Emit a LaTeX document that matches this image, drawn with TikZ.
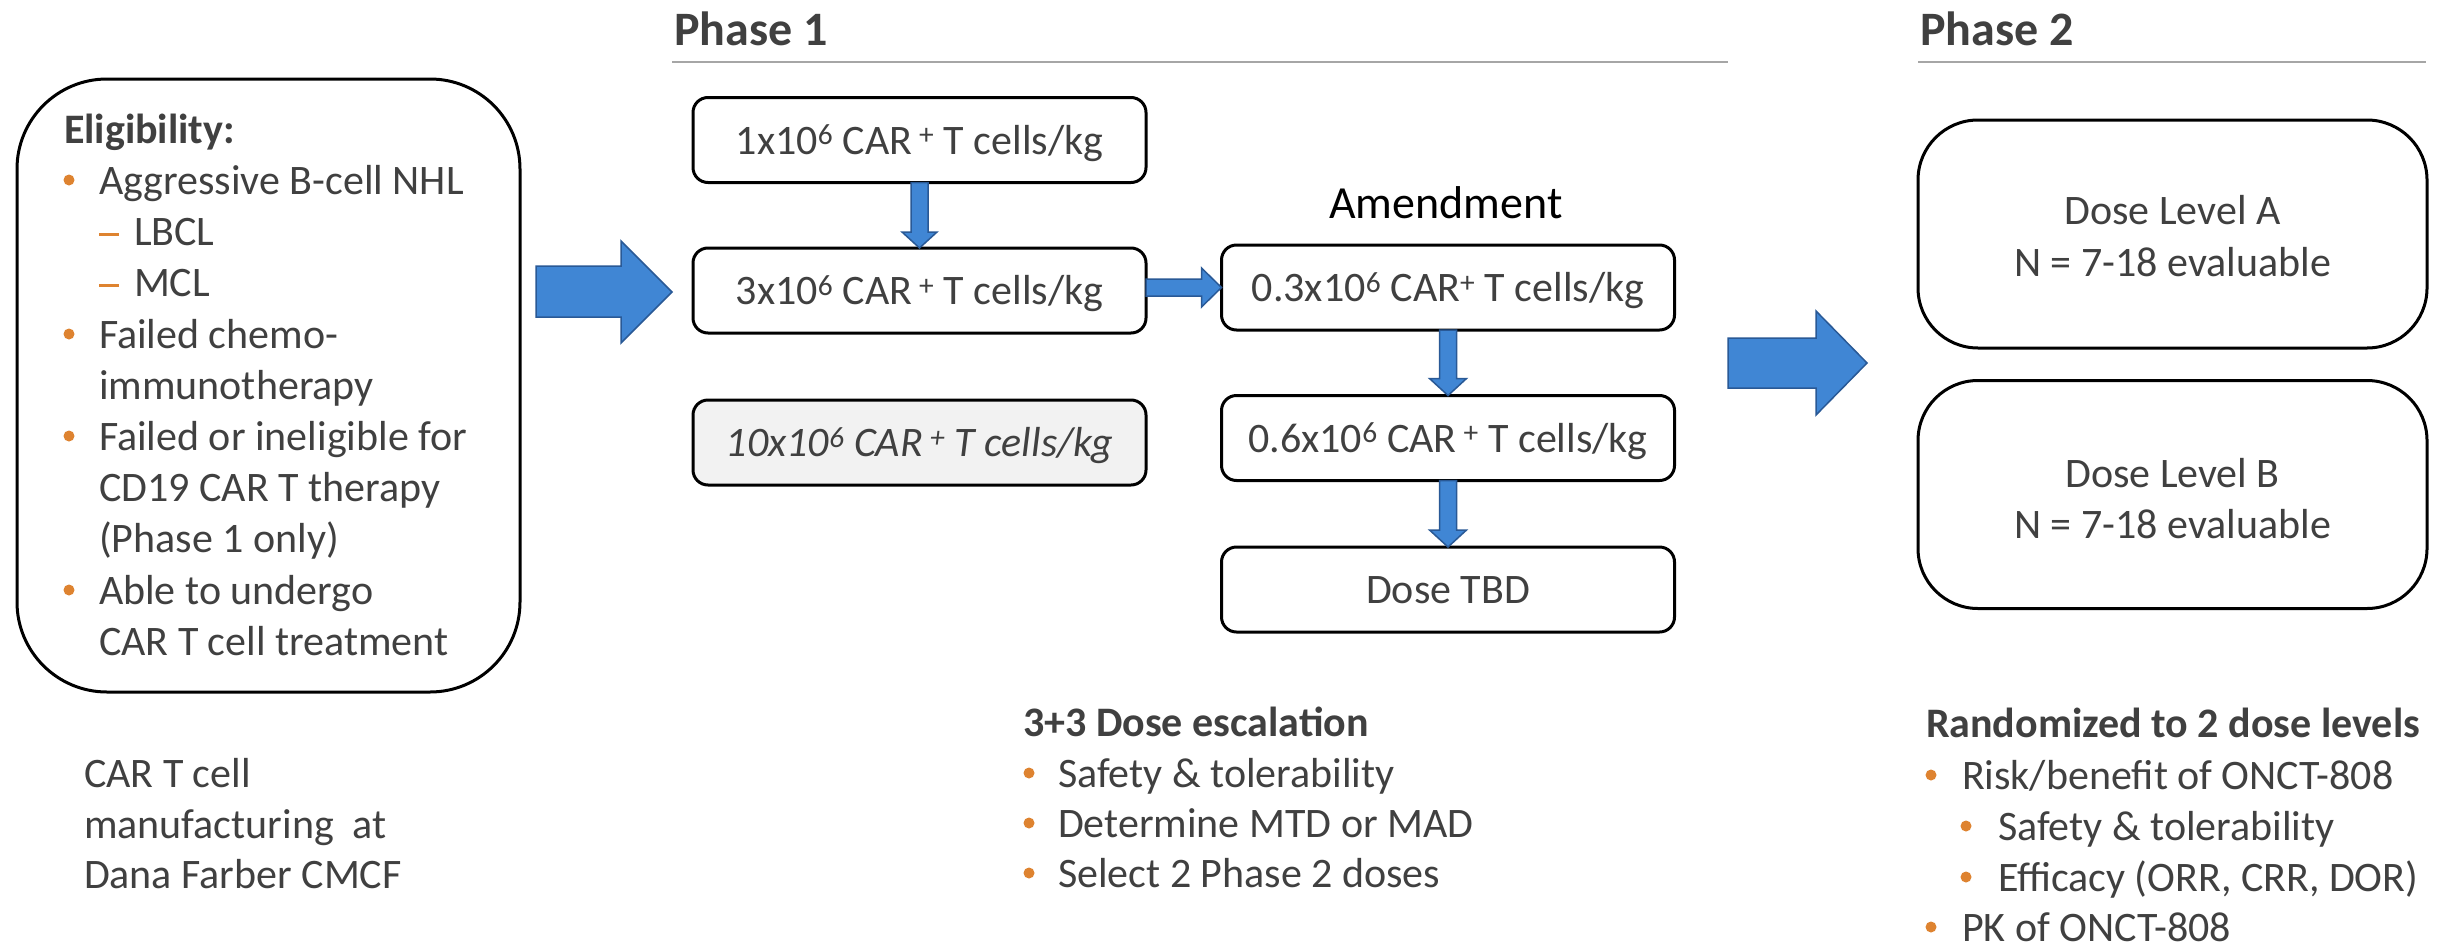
\documentclass[tikz,border=0pt]{standalone}
\usepackage{fontspec}
\setmainfont{Carlito}
\usetikzlibrary{calc}
\definecolor{txtgray}{HTML}{404040}
\definecolor{bulletor}{RGB}{222,131,48}
\definecolor{arrowfill}{RGB}{64,134,212}
\definecolor{arrowline}{RGB}{41,89,150}
\definecolor{rulegray}{HTML}{A6A6A6}
\definecolor{boxgray}{HTML}{F2F2F2}
\newcommand{\bodyfont}{\fontsize{42}{51}\selectfont}
\newcommand{\headfont}{\fontsize{48}{58}\selectfont\bfseries}
\newcommand{\obullet}[2]{\fill[bulletor] (#1,#2) circle[radius=5.5pt];}
\newcommand{\odash}[2]{\draw[bulletor, line width=3pt] (#1,#2) -- ++(20,0);}
\newcommand{\blkdown}[5]{%
  \filldraw[blockarrow] let \p1=(#1.south), \p2=(#2.north) in
    (\x1-#3pt,\y1) -- (\x1+#3pt,\y1) -- (\x1+#3pt,\y2+#5pt) -- (\x1+#4pt,\y2+#5pt)
    -- (\x1,\y2) -- (\x1-#4pt,\y2+#5pt) -- (\x1-#3pt,\y2+#5pt) -- cycle;}
\newcommand{\blkright}[5]{%
  \filldraw[blockarrow] let \p1=(#1.east), \p2=(#2.west) in
    (\x1,\y2+#3pt) -- (\x2-#5pt,\y2+#3pt) -- (\x2-#5pt,\y2+#4pt) -- (\x2,\y2)
    -- (\x2-#5pt,\y2-#4pt) -- (\x2-#5pt,\y2-#3pt) -- (\x1,\y2-#3pt) -- cycle;}
\begin{document}
\begin{tikzpicture}[x=1pt,y=-1pt,
  every node/.style={inner sep=0pt, outer sep=0pt},
  txt/.style={anchor=base west, text=txtgray, font=\bodyfont},
  ctxt/.style={anchor=base, text=txtgray, font=\bodyfont},
  dosebox/.style={draw=black, line width=3pt, rounded corners=15pt, fill=white,
    minimum width=453pt, minimum height=85pt, text=txtgray, font=\bodyfont,
    text height=28pt, text depth=0pt},
  p2box/.style={draw=black, line width=3pt, rounded corners=60pt,
    minimum width=509pt, minimum height=228pt},
  blockarrow/.style={fill=arrowfill, draw=arrowline, line width=1.5pt, line join=miter},
  hdrrule/.style={draw=rulegray, line width=2pt}
]
\useasboundingbox[fill=white] (0,0) rectangle (2446,945);

% ---------- Eligibility box ----------
\node[draw=black, line width=3pt, rounded corners=90pt, minimum width=503pt,
  minimum height=613pt] (elig) at (268.5,385.5) {};
\node[txt, font=\bodyfont\bfseries] (eligt) at (64,143) {Eligibility:};
\obullet{69}{180}
\node[txt] (e1) at (99,194) {Aggressive B-cell NHL};
\odash{99}{234}
\node[txt] (e2) at (134,245) {LBCL};
\odash{99}{285}
\node[txt] (e3) at (134,296) {MCL};
\obullet{69}{334}
\node[txt] (e4) at (99,348) {Failed chemo-};
\node[txt] (e5) at (99,399) {immunotherapy};
\obullet{69}{436}
\node[txt] (e6) at (99,450) {Failed or ineligible for};
\node[txt] (e7) at (99,501) {CD19 CAR T therapy};
\node[txt] (e8) at (99,552) {(Phase 1 only)};
\obullet{69}{590}
\node[txt] (e9) at (99,604) {Able to undergo};
\node[txt] (e10) at (99,655) {CAR T cell treatment};

% ---------- big arrows ----------
\filldraw[blockarrow] (536,266) -- (621,266) -- (621,241) -- (672,292) -- (621,343) -- (621,317) -- (536,317) -- cycle;
\filldraw[blockarrow] (1728,338) -- (1816,338) -- (1816,311) -- (1867,363) -- (1816,415) -- (1816,388) -- (1728,388) -- cycle;

% ---------- Phase 1 ----------
\node[anchor=base west, text=txtgray, font=\headfont] (ph1) at (674,45) {Phase 1};
\draw[hdrrule] (672,62) -- (1728,62);

\node[dosebox] (b1) at (919.5,140) {1x10\textsuperscript{6} CAR\kern7pt\textsuperscript{+} T cells/kg};
\node[dosebox] (b2) at (919.5,290.5) {3x10\textsuperscript{6} CAR\kern7pt\textsuperscript{+} T cells/kg};
\node[dosebox, fill=boxgray, font=\bodyfont\itshape] (b3) at (919.5,442.5) {10x10\textsuperscript{6} CAR\kern7pt\textsuperscript{+} T cells/kg};

\node[anchor=base, text=black, font=\fontsize{46}{55}\selectfont] (amend) at (1446,218) {Amendment};
\node[dosebox] (a1) at (1448,287.5) {0.3x10\textsuperscript{6} CAR\textsuperscript{+} T cells/kg};
\node[dosebox] (a2) at (1448,438) {0.6x10\textsuperscript{6} CAR\kern7pt\textsuperscript{+} T cells/kg};
\node[dosebox] (a3) at (1448,589.5) {Dose TBD};

\blkdown{b1}{b2}{8.5}{17.5}{16}
\blkright{b2}{a1}{8.5}{19.5}{20}
\blkdown{a1}{a2}{8.5}{18.5}{17}
\blkdown{a2}{a3}{8.5}{18.5}{17}

% ---------- Phase 2 ----------
\node[anchor=base west, text=txtgray, font=\headfont] (ph2) at (1920,45) {Phase 2};
\draw[hdrrule] (1918,62) -- (2426,62);

\node[p2box] (dlA) at (2172.5,234) {};
\node[ctxt] (dlA1) at (2172.5,224) {Dose Level A};
\node[ctxt] (dlA2) at (2172.5,276) {N = 7-18 evaluable};
\node[p2box] (dlB) at (2172.5,494.5) {};
\node[ctxt] (dlB1) at (2172.5,487) {Dose Level B};
\node[ctxt] (dlB2) at (2172.5,538) {N = 7-18 evaluable};

% ---------- bottom texts ----------
\node[txt] (m1) at (84,787) {CAR T cell};
\node[txt] (m2) at (84,838) {manufacturing\ \ at};
\node[txt] (m3) at (84,888) {Dana Farber CMCF};

\node[txt, font=\bodyfont\bfseries] (esc) at (1023,736) {3+3 Dose escalation};
\obullet{1029}{773}
\node[txt] (esc1) at (1058,787) {Safety \& tolerability};
\obullet{1029}{823}
\node[txt] (esc2) at (1058,837) {Determine MTD or MAD};
\obullet{1029}{873}
\node[txt] (esc3) at (1058,887) {Select 2 Phase 2 doses};

\node[txt, font=\bodyfont\bfseries] (rnd) at (1926,737) {Randomized to 2 dose levels};
\obullet{1931}{775}
\node[txt] (rnd1) at (1962,789) {Risk/benefit of ONCT-808};
\obullet{1966}{826}
\node[txt] (rnd2) at (1998,840) {Safety \& tolerability};
\obullet{1966}{877}
\node[txt] (rnd3) at (1998,891) {Efficacy (ORR, CRR, DOR)};
\obullet{1931}{927}
\node[txt] (rnd4) at (1962,941) {PK of ONCT-808};
\end{tikzpicture}
\end{document}
